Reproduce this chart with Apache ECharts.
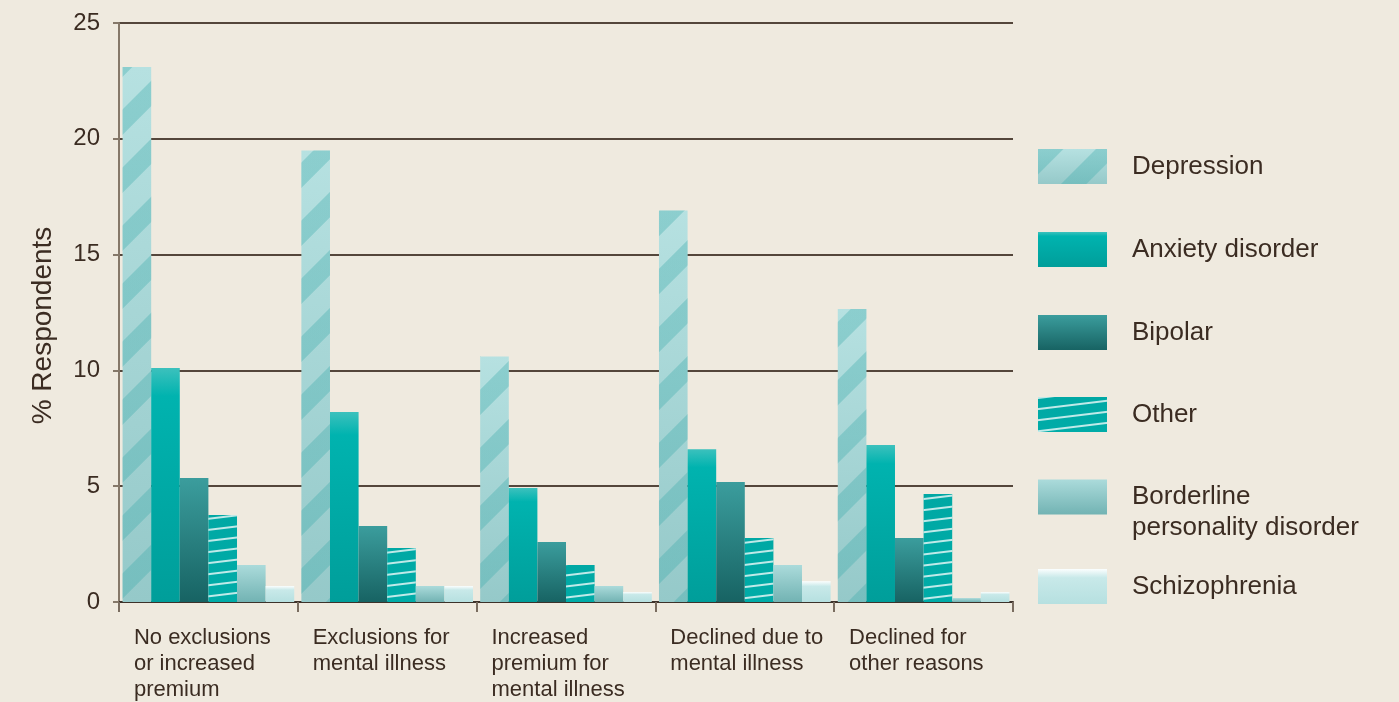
<!DOCTYPE html>
<html>
<head>
<meta charset="utf-8">
<script src="https://cdn.jsdelivr.net/npm/echarts@6/dist/echarts.min.js"></script>
<style>
html,body{margin:0;padding:0;background:#efeadf;}
#c{width:1399px;height:702px;}
</style>
</head>
<body>
<div id="c"></div>
<script>
// ---- data ----
var categories = [
  'No exclusions\nor increased\npremium',
  'Exclusions for\nmental illness',
  'Increased\npremium for\nmental illness',
  'Declined due to\nmental illness',
  'Declined for\nother reasons'
];
var seriesNames = ['Depression','Anxiety disorder','Bipolar','Other','Borderline personality disorder','Schizophrenia'];
var depression   = [23.1, 19.5, 10.6, 16.9, 12.65];
var anxiety      = [10.1, 8.2, 4.92, 6.6, 6.78];
var bipolar      = [5.35, 3.28, 2.59, 5.18, 2.76];
var other        = [3.76, 2.33, 1.6, 2.76, 4.66];
var borderline   = [1.6, 0.69, 0.69, 1.6, 0.17];
var schizophrenia= [0.69, 0.69, 0.43, 0.9, 0.43];
var yTicks = [0, 5, 10, 15, 20, 25];

var TXT = '#3b2c22';
var FONT = '"Liberation Sans", Arial, sans-serif';
function vg(stops){
  return {type:'linear',x:0,y:0,x2:0,y2:1,colorStops:stops.map(function(s){return {offset:s[0],color:s[1]};})};
}
var styles = [
  {color: vg([[0,'#b6e1e1'],[1,'#95c9c9']]),
   decal:{symbol:'rect',symbolSize:1,dashArrayX:[1,0],dashArrayY:[18,23],rotation:-Math.PI/4,color:'rgba(60,170,170,0.34)'}},
  {color: vg([[0,'#3cc1bd'],[0.12,'#00b3af'],[1,'#009e9a']])},
  {color: vg([[0,'#3b9d9d'],[1,'#176363']])},
  {color: vg([[0,'#00a8a4'],[1,'#00aca8']]),
   decal:{symbol:'rect',symbolSize:1,dashArrayX:[1,0],dashArrayY:[1.5,8.5],rotation:-0.12,color:'rgba(255,255,255,0.75)'}},
  {color: vg([[0,'#abdbdb'],[1,'#72b3b3']])},
  {color: vg([[0,'#fbfefe'],[0.25,'#c8e9e9'],[1,'#b6e0e0']])}
];
var dataArr = [depression, anxiety, bipolar, other, borderline, schizophrenia];
var series = seriesNames.map(function(n,i){
  return {name:n,type:'bar',data:dataArr[i],barGap:'0%',barCategoryGap:'4%',
    itemStyle:styles[i],emphasis:{disabled:true}};
});

var legendCenters = [166, 249, 332, 414, 497, 586];
var legends = seriesNames.map(function(n,i){
  var isB = i === 4;
  return {
    data:[n], orient:'vertical', left:1038, top: isB ? legendCenters[i]-51.5 : legendCenters[i]-17.5,
    padding:0, icon:'rect', itemWidth:69, itemHeight:35, selectedMode:false,
    formatter: isB ? function(){return '\nBorderline\npersonality disorder';} : '{name}',
    textStyle:{color:TXT,fontFamily:FONT,fontSize:26,lineHeight:31,padding: isB ? [10,0,0,20] : [5,0,0,20]}
  };
});

var chart = echarts.init(document.getElementById('c'));
chart.setOption({
  backgroundColor:'#efeadf',
  animation:false,
  legend: legends,
  grid:{left:119,right:386,top:23,bottom:100,containLabel:false},
  xAxis:{
    type:'category', data:categories,
    axisLine:{lineStyle:{color:'#3d322a',width:2}},
    axisTick:{show:true,length:10,lineStyle:{color:'#7a6d60',width:2}},
    axisLabel:{
      margin:23, verticalAlign:'top',
      formatter:function(v){return v.split('\n').map(function(l){return '{a|'+l+'}';}).join('\n');},
      rich:{a:{width:149,align:'left',fontSize:22,lineHeight:26,color:TXT,fontFamily:FONT}}
    }
  },
  yAxis:{
    type:'value', min:0, max:25, interval:5,
    name:'% Respondents', nameLocation:'middle', nameGap:62, nameRotate:90,
    nameTextStyle:{color:TXT,fontSize:28,fontFamily:FONT,padding:[0,26,0,0]},
    axisLine:{show:true,lineStyle:{color:'#857869',width:2}},
    axisTick:{show:true,length:6,lineStyle:{color:'#857869',width:2}},
    axisLabel:{margin:19,color:TXT,fontSize:24,fontFamily:FONT},
    splitLine:{lineStyle:{color:'#54463b',width:2}}
  },
  series:series
});
</script>
</body>
</html>
